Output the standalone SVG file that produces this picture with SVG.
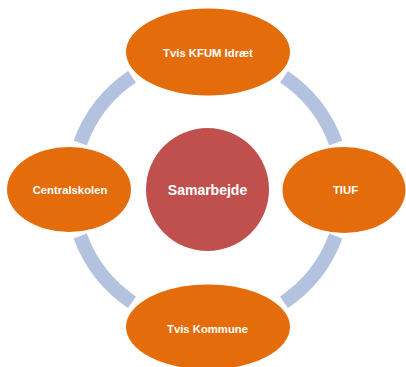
<svg xmlns="http://www.w3.org/2000/svg" width="406" height="367" viewBox="0 0 406 367">
  <style>
    .ring { fill: none; stroke: #B3C3DF; stroke-width: 14; }
    .node { fill: #E46C0A; }
    .hub { fill: #C0504D; }
    .lbl { font-family: "Liberation Sans", Arial, sans-serif; font-weight: bold; font-size: 11.3px; fill: #FFFFFF; text-anchor: middle; }
    .hubl { font-size: 14px; }
  </style>
  <rect width="406" height="367" fill="#FFFFFF"/>
  <g id="connectors">
    <path class="ring" d="M80.2,143 A136,136 0 0 1 132,76.8"/>
    <path class="ring" d="M284,76.8 A136,136 0 0 1 335.8,143"/>
    <path class="ring" d="M335.8,236 A136,136 0 0 1 284,302.2"/>
    <path class="ring" d="M132,302.2 A136,136 0 0 1 80.2,236"/>
  </g>
  <g id="samarbejde">
    <circle class="hub" cx="207.5" cy="189.5" r="61.5"/>
    <text class="lbl hubl" x="207.5" y="195">Samarbejde</text>
  </g>
  <g id="tvis-kfum">
    <ellipse class="node" cx="208" cy="52" rx="82" ry="43.5"/>
    <text class="lbl" x="208" y="57">Tvis KFUM Idræt</text>
  </g>
  <g id="tiuf">
    <ellipse class="node" cx="344" cy="190" rx="61.5" ry="43"/>
    <text class="lbl" x="345.5" y="194">TIUF</text>
  </g>
  <g id="tvis-kommune">
    <ellipse class="node" cx="208" cy="327" rx="82" ry="42.5"/>
    <text class="lbl" x="207.5" y="333">Tvis Kommune</text>
  </g>
  <g id="centralskolen">
    <ellipse class="node" cx="69" cy="189.5" rx="62" ry="42.5"/>
    <text class="lbl" x="70" y="194">Centralskolen</text>
  </g>
</svg>
